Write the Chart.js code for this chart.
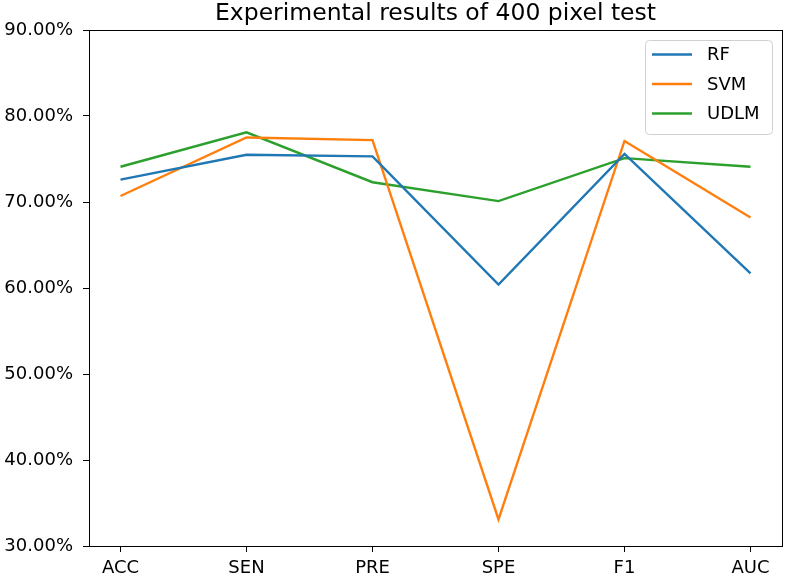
<!DOCTYPE html>
<html>
<head>
<meta charset="utf-8">
<script src="https://cdn.jsdelivr.net/npm/chart.js@4.4.1/dist/chart.umd.min.js"></script>
<style>
  html, body { margin: 0; padding: 0; background: #fff; }
  #wrap { width: 786px; height: 578px; }
</style>
</head>
<body>
<div id="wrap"><canvas id="chart"></canvas></div>
<script>
const categories = ["ACC", "SEN", "PRE", "SPE", "F1", "AUC"];
const rfValues = [72.6, 75.5, 75.3, 60.4, 75.6, 61.7];
const svmValues = [70.7, 77.5, 77.2, 33.1, 77.1, 68.2];
const udlmValues = [74.1, 78.1, 72.3, 70.1, 75.1, 74.1];
const yTicks = [30, 40, 50, 60, 70, 80, 90];
const titleText = "Experimental results of 400 pixel test";

const FONT = "'DejaVu Sans', sans-serif";

const toPoints = vals => vals.map((v, i) => ({ x: i, y: v }));

// top/right spines + title centred over the axes, like matplotlib
const frame = {
  id: "frame",
  afterDatasetsDraw(chart) {
    const { ctx, chartArea: a } = chart;
    ctx.save();
    ctx.strokeStyle = "#000";
    ctx.lineWidth = 1;
    ctx.strokeRect(Math.round(a.left) + 0.5, Math.round(a.top) + 0.5,
      Math.round(a.right - a.left), Math.round(a.bottom - a.top));
    ctx.font = "23.5px " + FONT;
    ctx.fillStyle = "#000";
    ctx.textAlign = "center";
    ctx.textBaseline = "alphabetic";
    ctx.fillText(titleText, (a.left + a.right) / 2, a.top - 10.5);
    ctx.restore();
  }
};

// legend box in the upper right corner of the plot
const innerLegend = {
  id: "innerLegend",
  afterDraw(chart) {
    const { ctx, chartArea: a } = chart;
    const sets = chart.data.datasets;
    const rowH = 29.5, w = 127, h = 94;
    const x = a.right - 10 - w, y = a.top + 10;
    ctx.save();
    ctx.fillStyle = "rgba(255,255,255,0.8)";
    ctx.strokeStyle = "#d0d0d0";
    ctx.lineWidth = 1;
    ctx.beginPath();
    ctx.roundRect(x + 0.5, y + 0.5, w, h, 4);
    ctx.fill();
    ctx.stroke();
    ctx.font = "18px " + FONT;
    ctx.textBaseline = "middle";
    ctx.fillStyle = "#000";
    sets.forEach((ds, i) => {
      const cy = y + 14.5 + i * rowH;
      ctx.strokeStyle = ds.borderColor;
      ctx.lineWidth = 2.4;
      ctx.beginPath();
      ctx.moveTo(x + 7, cy);
      ctx.lineTo(x + 47, cy);
      ctx.stroke();
      ctx.fillText(ds.label, x + 62, cy + 1);
    });
    ctx.restore();
  }
};

new Chart(document.getElementById("chart"), {
  type: "line",
  data: {
    datasets: [
      { label: "RF", data: toPoints(rfValues), borderColor: "#1f77b4" },
      { label: "SVM", data: toPoints(svmValues), borderColor: "#ff7f0e" },
      { label: "UDLM", data: toPoints(udlmValues), borderColor: "#2ca02c" }
    ]
  },
  options: {
    responsive: true,
    maintainAspectRatio: false,
    animation: false,
    layout: { padding: { left: 0, right: 4, top: 30, bottom: 0 } },
    elements: {
      line: { borderWidth: 2.4, tension: 0, fill: false },
      point: { radius: 0, hoverRadius: 0 }
    },
    plugins: {
      legend: { display: false },
      tooltip: { enabled: false },
      title: { display: false }
    },
    scales: {
      x: {
        type: "linear",
        min: -0.25,
        max: categories.length - 0.75,
        afterBuildTicks: axis => { axis.ticks = categories.map((c, i) => ({ value: i })); },
        afterFit: axis => { axis.height = 32; },
        ticks: {
          callback: v => categories[v],
          color: "#000",
          font: { family: FONT, size: 18 },
          padding: 6,
          maxRotation: 0
        },
        grid: { drawOnChartArea: false, drawTicks: true, tickLength: 6, color: "#000" },
        border: { display: true, color: "#000", width: 1 }
      },
      y: {
        min: 30,
        max: 90,
        afterBuildTicks: axis => { axis.ticks = yTicks.map(v => ({ value: v })); },
        afterFit: axis => { axis.width = 89; },
        ticks: {
          callback: v => v.toFixed(2) + "%",
          color: "#000",
          font: { family: FONT, size: 18 },
          padding: 10
        },
        grid: { drawOnChartArea: false, drawTicks: true, tickLength: 6, color: "#000" },
        border: { display: true, color: "#000", width: 1 }
      }
    }
  },
  plugins: [frame, innerLegend]
});
</script>
</body>
</html>
